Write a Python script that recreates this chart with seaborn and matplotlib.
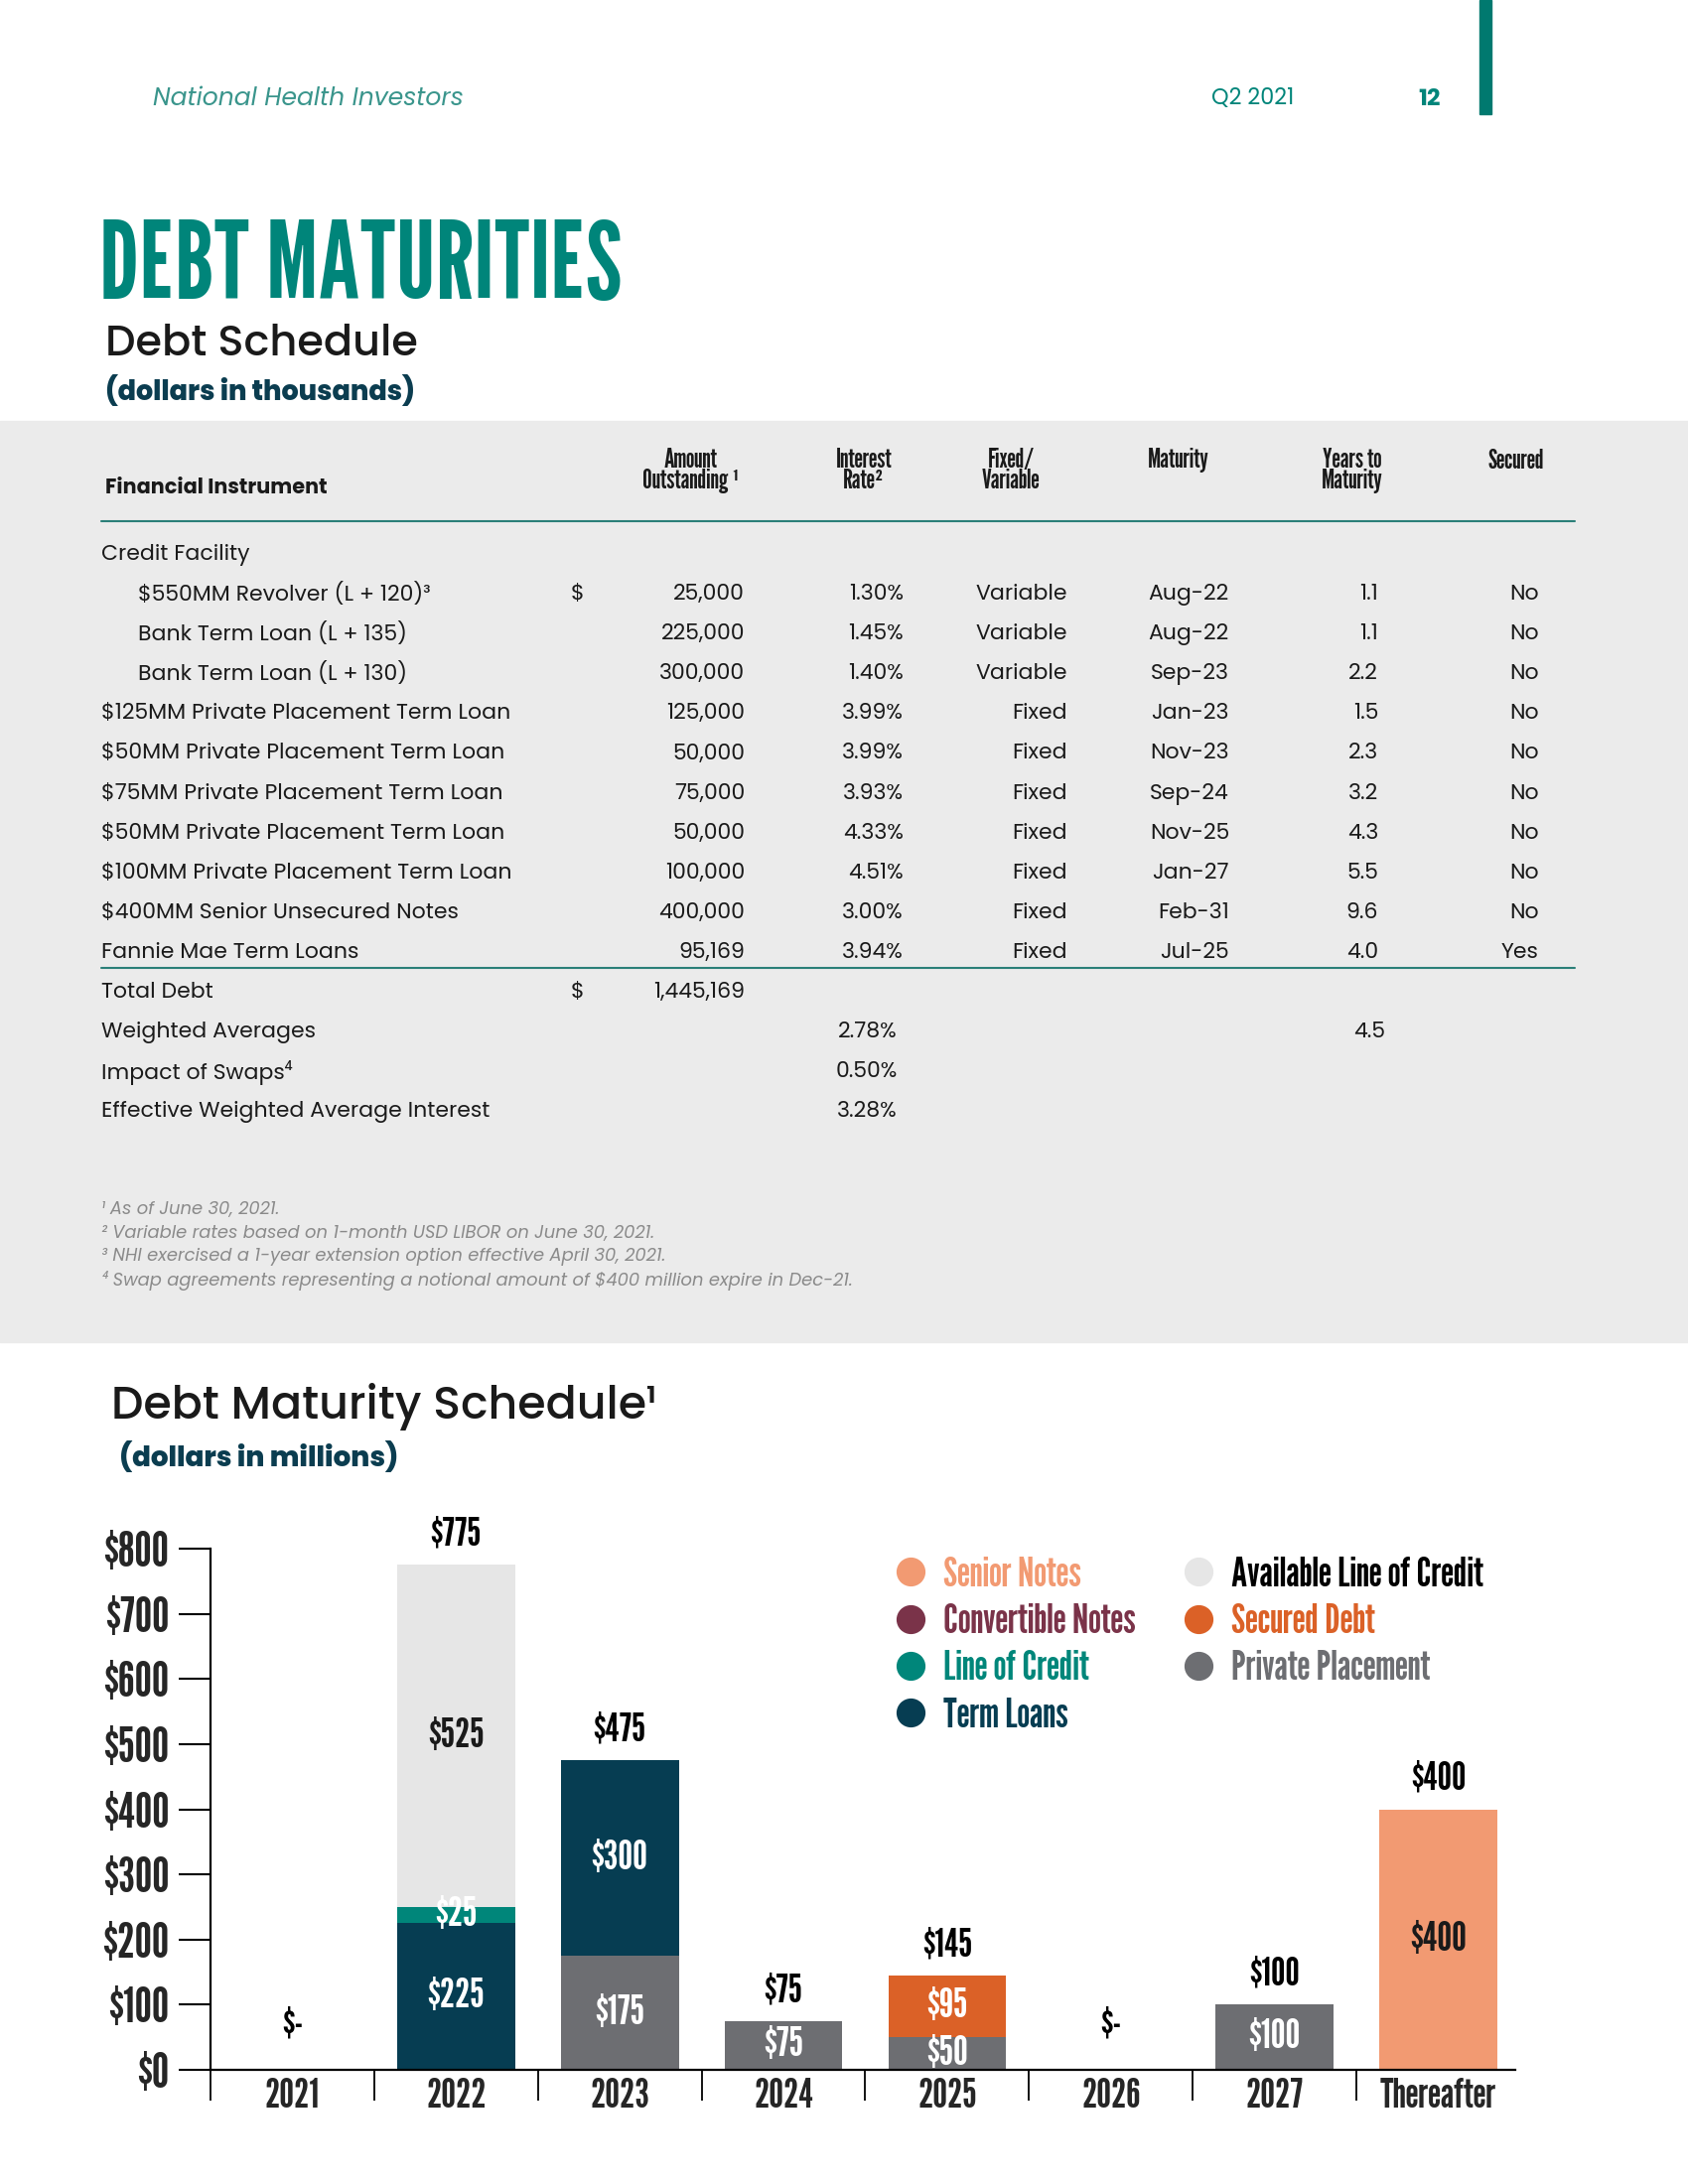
import matplotlib
matplotlib.use("Agg")
import matplotlib.pyplot as plt
from matplotlib.lines import Line2D
from matplotlib.patches import Rectangle
from matplotlib.font_manager import FontProperties
import seaborn as sns

sns.set_theme(style="white")
BODY = ['Poppins', 'Open Sans', 'DejaVu Sans']
COND = ['League Gothic', 'Oswald', 'Roboto Condensed', 'DejaVu Sans']
plt.rcParams['font.family'] = BODY

W, H = 1700, 2200
TEAL = '#00857a'
NAVY = '#0b3d50'
INK = '#1a1a1a'

# ---- debt schedule table (dollars in thousands)
instruments = ["Credit Facility", "$550MM Revolver (L + 120)³", "Bank Term Loan (L + 135)",
               "Bank Term Loan (L + 130)", "$125MM Private Placement Term Loan",
               "$50MM Private Placement Term Loan", "$75MM Private Placement Term Loan",
               "$50MM Private Placement Term Loan", "$100MM Private Placement Term Loan",
               "$400MM Senior Unsecured Notes", "Fannie Mae Term Loans"]
indented = [False, True, True, True, False, False, False, False, False, False, False]
amounts = ["", "25,000", "225,000", "300,000", "125,000", "50,000", "75,000", "50,000",
           "100,000", "400,000", "95,169"]
rates = ["", "1.30%", "1.45%", "1.40%", "3.99%", "3.99%", "3.93%", "4.33%", "4.51%",
         "3.00%", "3.94%"]
fixed_variable = ["", "Variable", "Variable", "Variable", "Fixed", "Fixed", "Fixed", "Fixed",
                  "Fixed", "Fixed", "Fixed"]
maturities = ["", "Aug-22", "Aug-22", "Sep-23", "Jan-23", "Nov-23", "Sep-24", "Nov-25",
              "Jan-27", "Feb-31", "Jul-25"]
years_to_maturity = ["", "1.1", "1.1", "2.2", "1.5", "2.3", "3.2", "4.3", "5.5", "9.6", "4.0"]
secured = ["", "No", "No", "No", "No", "No", "No", "No", "No", "No", "Yes"]

summary_labels = ["Total Debt", "Weighted Averages", "Impact of Swaps⁴",
                  "Effective Weighted Average Interest"]
summary_amounts = ["1,445,169", "", "", ""]
summary_rates = ["", "2.78%", "0.50%", "3.28%"]
summary_years = ["", "4.5", "", ""]

footnotes = ["¹ As of June 30, 2021.",
             "² Variable rates based on 1-month USD LIBOR on June 30, 2021.",
             "³ NHI exercised a 1-year extension option effective April 30, 2021.",
             "⁴ Swap agreements representing a notional amount of $400 million expire in Dec-21."]

# ---- debt maturity chart (dollars in millions)
periods = ["2021", "2022", "2023", "2024", "2025", "2026", "2027", "Thereafter"]
private_placement = [0, 0, 175, 75, 50, 0, 100, 0]
term_loans = [0, 225, 300, 0, 0, 0, 0, 0]
line_of_credit = [0, 25, 0, 0, 0, 0, 0, 0]
secured_debt = [0, 0, 0, 0, 95, 0, 0, 0]
available_loc = [0, 525, 0, 0, 0, 0, 0, 0]
senior_notes = [0, 0, 0, 0, 0, 0, 0, 400]
y_ticks = [0, 100, 200, 300, 400, 500, 600, 700, 800]

colors = {"Senior Notes": "#f29a72", "Convertible Notes": "#7a3349",
          "Line of Credit": "#00867a", "Term Loans": "#063d52",
          "Available Line of Credit": "#e6e6e6", "Secured Debt": "#db6127",
          "Private Placement": "#6d6e72"}

fig = plt.figure(figsize=(W / 100, H / 100), dpi=100)


def put(x, y, s, **kw):
    return fig.text(x / W, 1 - y / H, s, **kw)


def cond(size, weight='normal'):
    return FontProperties(family=COND, size=size, weight=weight)


# page header
put(154, 100, "National Health Investors", fontsize=18, style='italic',
    color='#3a958c', va='center')
put(1220, 100, "Q2 2021", fontsize=16, color=TEAL, va='center')
put(1428, 100, "12", fontsize=17, weight='bold', color=TEAL, va='center')
fig.patches.append(Rectangle((1490 / W, 1 - 115 / H), 12 / W, 115 / H, color='#00796f',
                             transform=fig.transFigure, figure=fig))

put(100, 300, "DEBT MATURITIES", fontproperties=cond(78), color=TEAL, va='baseline')
put(106, 347, "Debt Schedule", fontsize=31, weight='medium', color=INK, va='center')
put(106, 395, "(dollars in thousands)", fontsize=19.5, weight=800, color=NAVY, va='center')

# grey table panel
fig.patches.append(Rectangle((0, 1 - 1352 / H), 1, (1352 - 424) / H, color='#ebebeb',
                             transform=fig.transFigure, figure=fig, zorder=-5))

put(106, 492, "Financial Instrument", fontsize=15, weight='bold', color=INK, va='center')
head_fp = cond(19.5)
for x, lab, y in [(695, "Amount\nOutstanding ¹", 474), (870, "Interest\nRate²", 474),
                  (1018, "Fixed/\nVariable", 474), (1187, "Maturity", 464),
                  (1362, "Years to\nMaturity", 474), (1527, "Secured", 464)]:
    put(x, y, lab, fontproperties=head_fp, ha='center', va='center', color=INK, linespacing=0.8)

for y in (525, 975):
    fig.add_artist(Line2D([102 / W, 1586 / W], [1 - y / H, 1 - y / H], color='#2a7f78', lw=1.5))

body = dict(fontsize=15.8, color=INK, va='center')
for k in range(len(instruments)):
    y = 559 + 40.1 * k
    put(139 if indented[k] else 102, y, instruments[k], **body)
    if k == 1:
        put(581, y, "$", ha='center', **body)
    put(750, y, amounts[k], ha='right', **body)
    put(910, y, rates[k], ha='right', **body)
    put(1075, y, fixed_variable[k], ha='right', **body)
    put(1238, y, maturities[k], ha='right', **body)
    put(1388, y, years_to_maturity[k], ha='right', **body)
    put(1550, y, secured[k], ha='right', **body)

for j in range(len(summary_labels)):
    y = 559 + 40.1 * (len(instruments) + j)
    put(102, y, summary_labels[j], **body)
    if summary_amounts[j]:
        put(581, y, "$", ha='center', **body)
    put(750, y, summary_amounts[j], ha='right', **body)
    put(904, y, summary_rates[j], ha='right', **body)
    put(1395, y, summary_years[j], ha='right', **body)

for j, note in enumerate(footnotes):
    put(102, 1219 + 23.5 * j, note, fontsize=12.9, style='italic',
        color='#8a8a8a', va='center')

# chart titles
put(112, 1417, "Debt Maturity Schedule¹", fontsize=33, weight='medium', color=INK, va='center')
put(120, 1469, "(dollars in millions)", fontsize=20, weight=800, color=NAVY, va='center')

# stacked bars
ax = fig.add_axes([212 / W, (H - 2085) / H, (1526 - 212) / W, (2085 - 1560) / H])
layers = [("Private Placement", private_placement), ("Term Loans", term_loans),
          ("Line of Credit", line_of_credit), ("Secured Debt", secured_debt),
          ("Available Line of Credit", available_loc), ("Senior Notes", senior_notes)]
dark_text = {"Available Line of Credit", "Senior Notes"}
bottom = [0] * len(periods)
for name, vals in layers:
    sns.barplot(x=periods, y=vals, order=periods, bottom=bottom, color=colors[name],
                saturation=1, width=0.72, errorbar=None, linewidth=0, ax=ax)
    for i, v in enumerate(vals):
        if v:
            ax.text(i, bottom[i] + v / 2, f"${v}", ha='center', va='center',
                    fontproperties=cond(30), color=INK if name in dark_text else 'white')
    bottom = [b + v for b, v in zip(bottom, vals)]

for i, tot in enumerate(bottom):
    if tot:
        ax.annotate(f"${tot}", (i, tot), xytext=(0, 22), textcoords='offset points',
                    ha='center', va='center', fontproperties=cond(29), color='black',
                    annotation_clip=False)
    else:
        ax.annotate("$-", (i, 0), xytext=(0, 33), textcoords='offset points',
                    ha='center', va='center', fontproperties=cond(29), color='black',
                    annotation_clip=False)

ax.set_xlim(-0.5, 7.47)
ax.set_ylim(0, 800)
ax.set_yticks(y_ticks)
ax.set_yticklabels([f"${v}" for v in y_ticks], fontproperties=cond(35))
ax.set_xticks(range(len(periods)))
ax.set_xticklabels(periods, fontproperties=cond(30))
ax.set_xticks([i - 0.5 for i in range(len(periods))], minor=True)
ax.tick_params(axis='y', which='major', length=23, width=1.5, direction='out', color='black',
               pad=7, left=True)
ax.tick_params(axis='x', which='major', length=0, pad=6)
ax.tick_params(axis='x', which='minor', length=22, width=1.3, direction='out', color='black',
               bottom=True)
ax.set_xlabel("")
ax.set_ylabel("")
ax.patch.set_alpha(0)
for side in ('top', 'right'):
    ax.spines[side].set_visible(False)
for side in ('left', 'bottom'):
    ax.spines[side].set_color('black')
    ax.spines[side].set_linewidth(1.6)

# legend (two columns)
legend_cols = [["Senior Notes", "Convertible Notes", "Line of Credit", "Term Loans"],
               ["Available Line of Credit", "Secured Debt", "Private Placement"]]
for col, x0 in zip(legend_cols, (900, 1190)):
    handles = [Line2D([], [], marker='o', linestyle='', markersize=20, color=colors[n]) for n in col]
    lc = ['black' if n == "Available Line of Credit" else colors[n] for n in col]
    fig.legend(handles, col, loc='upper left', bbox_to_anchor=(x0 / W, 1 - 1568 / H),
               frameon=False, prop=cond(30), labelcolor=lc, handlelength=0.8,
               handletextpad=0.4, labelspacing=0.22, borderpad=0, borderaxespad=0)

fig.savefig("out.png", dpi=100)
